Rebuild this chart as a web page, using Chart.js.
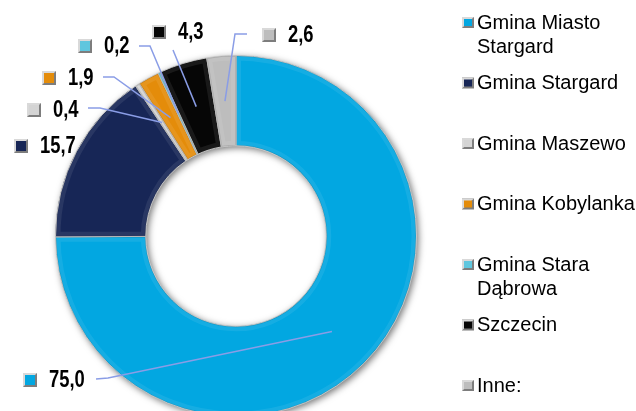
<!DOCTYPE html>
<html>
<head>
<meta charset="utf-8">
<script src="https://cdn.jsdelivr.net/npm/chart.js@4.4.1/dist/chart.umd.min.js"></script>
<style>
  html, body { margin: 0; padding: 0; background: #fff; overflow: hidden; width: 636px; height: 411px; }
  canvas { display: block; }
</style>
</head>
<body>
<canvas id="donut" width="636" height="472"></canvas>
<script>
// ── data ────────────────────────────────────────────────────
const CATEGORIES = ['Gmina Miasto Stargard', 'Gmina Stargard', 'Gmina Maszewo', 'Gmina Kobylanka',
                    'Gmina Stara Dąbrowa', 'Szczecin', 'Inne:'];
const SHARES = [75.0, 15.7, 0.4, 1.9, 0.2, 4.3, 2.6];

// ── styling ─────────────────────────────────────────────────
const SLICE_COLORS = ['#02a7e1', '#172656', '#d4d4d4', '#e48c0a', '#5fc6de', '#060606', '#bdbdbd'];
const LEADER_COLOR = '#8a9de6';
const LEGEND_FONT = '20px "Liberation Sans", Arial, sans-serif';
const VALUE_FONT = 'bold 23px "Liberation Sans", Arial, sans-serif';

// where the hand-placed value labels sit (marker left x, centre y, leader start + elbow)
const LABEL_LAYOUT = [
  { x: 23,  y: 380, line: [96, 379, 108, 378] },
  { x: 14,  y: 146, line: null },
  { x: 27,  y: 110, line: [88, 108, 100, 108] },
  { x: 42,  y: 78,  line: [103, 77, 114, 77] },
  { x: 78,  y: 46,  line: [139, 46, 150, 46] },
  { x: 152, y: 32,  line: [173, 50, 173, 50] },
  { x: 262, y: 35,  line: [247, 34, 235, 34] },
];

const fmt = v => v.toFixed(1).replace('.', ',');

function drawMarker(ctx, x, y, w, h, color) {
  ctx.save();
  // bevelled frame
  ctx.fillStyle = '#7d7d7d';
  ctx.fillRect(x, y, w, h);
  ctx.beginPath();
  ctx.moveTo(x, y); ctx.lineTo(x + w, y); ctx.lineTo(x, y + h); ctx.closePath();
  ctx.fillStyle = '#d9d9d9';
  ctx.fill();
  ctx.fillStyle = color;
  ctx.fillRect(x + 2, y + 2, w - 4, h - 4);
  ctx.restore();
}

function arcPath(ctx, a) {
  ctx.beginPath();
  ctx.arc(a.x, a.y, a.outerRadius, a.startAngle, a.endAngle);
  ctx.arc(a.x, a.y, a.innerRadius, a.endAngle, a.startAngle, true);
  ctx.closePath();
}

// ── ring shadow + bevel ─────────────────────────────────────
const ringEffects = {
  id: 'ringEffects',
  beforeDatasetsDraw(chart) {
    const a = chart.getDatasetMeta(0).data[0];
    if (!a) return;
    const ctx = chart.ctx;
    ctx.save();
    ctx.shadowColor = 'rgba(0,0,0,0.55)';
    ctx.shadowBlur = 7;
    ctx.shadowOffsetX = 2;
    ctx.shadowOffsetY = 2;
    ctx.beginPath();
    ctx.arc(a.x, a.y, a.outerRadius, 0, Math.PI * 2);
    ctx.arc(a.x, a.y, a.innerRadius, 0, Math.PI * 2, true);
    ctx.fillStyle = '#9a9a9a';
    ctx.fill();
    ctx.restore();
  },
  afterDatasetsDraw(chart) {
    const ctx = chart.ctx;
    chart.getDatasetMeta(0).data.forEach(a => {
      ctx.save();
      arcPath(ctx, a);
      ctx.clip();
      arcPath(ctx, a);
      ctx.lineJoin = 'round';
      ctx.lineWidth = 10;
      ctx.strokeStyle = 'rgba(255,255,255,0.08)';
      ctx.stroke();
      ctx.lineWidth = 2;
      ctx.strokeStyle = 'rgba(0,0,0,0.12)';
      ctx.stroke();
      ctx.restore();
    });
  },
};

// ── value labels with leader lines ──────────────────────────
const valueLabels = {
  id: 'valueLabels',
  afterDraw(chart) {
    const ctx = chart.ctx;
    const arcs = chart.getDatasetMeta(0).data;
    SHARES.forEach((v, i) => {
      const L = LABEL_LAYOUT[i];
      if (L.line) {
        const c = arcs[i].tooltipPosition();
        ctx.save();
        ctx.strokeStyle = LEADER_COLOR;
        ctx.lineWidth = 1.5;
        ctx.beginPath();
        ctx.moveTo(L.line[0], L.line[1]);
        ctx.lineTo(L.line[2], L.line[3]);
        ctx.lineTo(c.x, c.y);
        ctx.stroke();
        ctx.restore();
      }
      drawMarker(ctx, L.x, L.y - 7, 14, 14, SLICE_COLORS[i]);
      ctx.save();
      ctx.translate(L.x + 26, L.y + 1);
      ctx.scale(0.8, 1);
      ctx.font = VALUE_FONT;
      ctx.fillStyle = '#000';
      ctx.textBaseline = 'middle';
      ctx.fillText(fmt(v), 0, 0);
      ctx.restore();
    });
  },
};

// ── legend on the right ─────────────────────────────────────
function wrap(ctx, text, maxW) {
  const words = text.split(' ');
  const lines = [];
  let cur = '';
  words.forEach(w => {
    const t = cur ? cur + ' ' + w : w;
    if (ctx.measureText(t).width > maxW && cur) { lines.push(cur); cur = w; }
    else cur = t;
  });
  lines.push(cur);
  return lines;
}

const sideLegend = {
  id: 'sideLegend',
  afterDraw(chart) {
    const ctx = chart.ctx;
    ctx.save();
    ctx.font = LEGEND_FONT;
    ctx.fillStyle = '#000';
    ctx.textBaseline = 'middle';
    CATEGORIES.forEach((name, i) => {
      const y = 22 + i * 60.5;
      drawMarker(ctx, 462, y - 5, 12, 11, SLICE_COLORS[i]);
      wrap(ctx, name, 160).forEach((ln, k) => ctx.fillText(ln, 477, y + 1 + k * 24));
    });
    ctx.restore();
  },
};

new Chart(document.getElementById('donut'), {
  type: 'doughnut',
  data: {
    labels: CATEGORIES,
    datasets: [{
      data: SHARES,
      backgroundColor: SLICE_COLORS,
      borderColor: '#cfcfcf',
      borderWidth: 1,
    }],
  },
  options: {
    responsive: false,
    animation: false,
    cutout: '50%',
    layout: { padding: { left: 55, top: 55, right: 219, bottom: 55 } },
    plugins: {
      legend: { display: false },
      tooltip: { enabled: false },
    },
  },
  plugins: [ringEffects, valueLabels, sideLegend],
});
</script>
</body>
</html>
